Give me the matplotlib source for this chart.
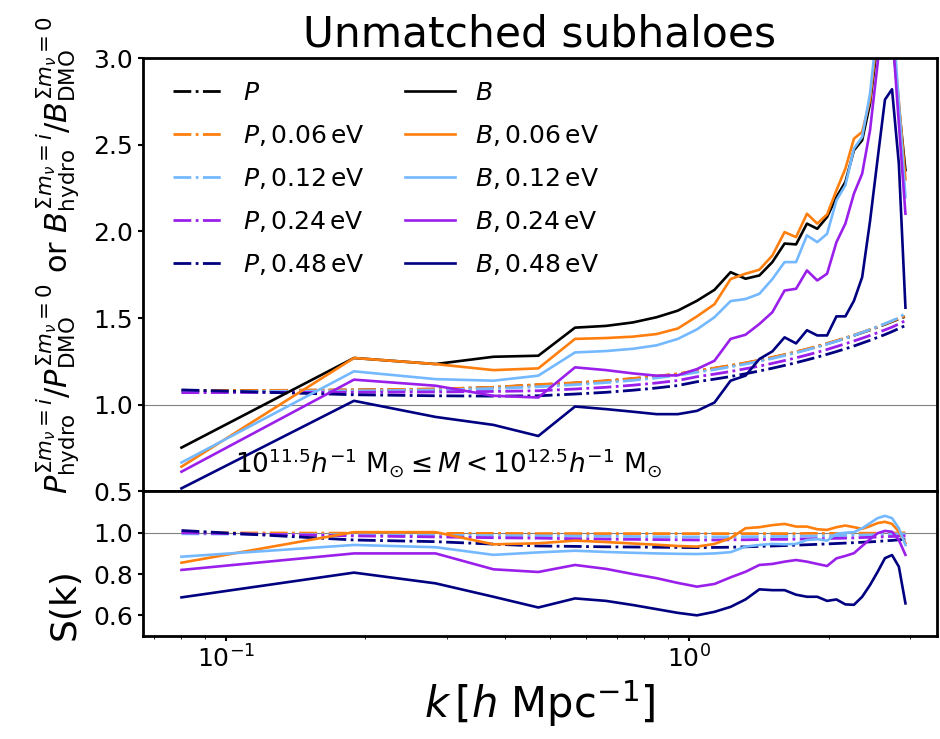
import matplotlib.pyplot as plt
import numpy as np

# wavenumbers (h/Mpc)
k = [0.0802, 0.189, 0.2835, 0.378, 0.4725, 0.567, 0.6615, 0.756, 0.8505, 0.945,
     1.0395, 1.134, 1.2285, 1.323, 1.4175, 1.512, 1.6065, 1.701, 1.7955, 1.89,
     1.9845, 2.079, 2.1735, 2.268, 2.3625, 2.457, 2.5515, 2.646, 2.7405, 2.835, 2.9295]

labels = ['', ', 0.06', ', 0.12', ', 0.24', ', 0.48']
colors = ['black', '#ff7f0e', '#74b9ff', '#9b1fea', '#000080']

# power spectrum ratios (dash-dot)
P_0 = [1.080, 1.085, 1.090, 1.100, 1.115, 1.125, 1.137, 1.150, 1.163, 1.177, 1.195, 1.210, 1.225, 1.240, 1.256,
       1.272, 1.288, 1.304, 1.320, 1.336, 1.352, 1.368, 1.384, 1.400, 1.416, 1.432, 1.448, 1.464, 1.480, 1.495, 1.510]
P_006 = [1.080, 1.086, 1.091, 1.101, 1.117, 1.127, 1.139, 1.152, 1.165, 1.179, 1.197, 1.212, 1.227, 1.242, 1.258,
         1.274, 1.290, 1.306, 1.322, 1.338, 1.354, 1.370, 1.386, 1.402, 1.418, 1.434, 1.450, 1.466, 1.482, 1.498, 1.514]
P_012 = [1.075, 1.080, 1.085, 1.094, 1.104, 1.116, 1.128, 1.141, 1.155, 1.170, 1.188, 1.203, 1.219, 1.235, 1.251,
         1.267, 1.284, 1.300, 1.317, 1.333, 1.350, 1.366, 1.383, 1.400, 1.417, 1.434, 1.451, 1.468, 1.485, 1.502, 1.528]
P_024 = [1.070, 1.072, 1.074, 1.077, 1.081, 1.091, 1.101, 1.113, 1.126, 1.140, 1.162, 1.177, 1.192, 1.208, 1.223,
         1.239, 1.255, 1.271, 1.287, 1.303, 1.319, 1.336, 1.352, 1.368, 1.384, 1.400, 1.416, 1.432, 1.448, 1.466, 1.486]
P_048 = [1.086, 1.058, 1.052, 1.050, 1.052, 1.062, 1.072, 1.084, 1.097, 1.111, 1.133, 1.148, 1.163, 1.179, 1.195,
         1.211, 1.227, 1.243, 1.259, 1.275, 1.291, 1.307, 1.323, 1.339, 1.356, 1.372, 1.389, 1.405, 1.422, 1.440, 1.457]

# bispectrum ratios (solid)
B_0 = [0.753, 1.270, 1.235, 1.277, 1.283, 1.445, 1.455, 1.475, 1.505, 1.543, 1.600, 1.663, 1.765, 1.727, 1.746,
       1.823, 1.930, 1.925, 2.045, 2.015, 2.083, 2.198, 2.285, 2.468, 2.526, 2.738, 3.100, 3.400, 3.150, 2.720, 2.353]
B_006 = [0.643, 1.270, 1.235, 1.200, 1.210, 1.380, 1.385, 1.393, 1.408, 1.440, 1.510, 1.580, 1.725, 1.756, 1.779,
         1.861, 1.996, 1.967, 2.102, 2.045, 2.098, 2.237, 2.362, 2.535, 2.574, 2.760, 3.150, 3.450, 3.200, 2.750, 2.300]
B_012 = [0.667, 1.193, 1.148, 1.139, 1.168, 1.302, 1.310, 1.323, 1.343, 1.380, 1.435, 1.505, 1.598, 1.610, 1.640,
         1.725, 1.823, 1.823, 1.977, 1.938, 1.986, 2.179, 2.266, 2.478, 2.545, 2.796, 3.200, 3.500, 3.300, 2.740, 2.198]
B_024 = [0.614, 1.145, 1.110, 1.052, 1.042, 1.216, 1.200, 1.181, 1.168, 1.170, 1.206, 1.254, 1.380, 1.404, 1.466,
         1.534, 1.659, 1.669, 1.775, 1.717, 1.756, 1.938, 2.045, 2.218, 2.333, 2.584, 2.970, 3.400, 3.180, 2.620, 2.102]
B_048 = [0.518, 1.023, 0.930, 0.884, 0.820, 0.990, 0.975, 0.960, 0.946, 0.946, 0.965, 1.013, 1.139, 1.168, 1.264,
         1.308, 1.389, 1.354, 1.430, 1.400, 1.400, 1.510, 1.510, 1.600, 1.736, 2.060, 2.420, 2.760, 2.820, 2.390, 1.560]

# S(k) in lower panel
SP_006 = [1.000, 0.998, 0.997, 0.997, 0.996, 0.996, 0.996, 0.996, 0.996, 0.996, 0.996, 0.996, 0.996, 0.996, 0.996,
          0.996, 0.996, 0.996, 0.997, 0.997, 0.997, 0.997, 0.997, 0.998, 0.998, 0.998, 0.998, 0.999, 0.999, 0.999, 1.000]
SP_012 = [0.995, 0.990, 0.988, 0.986, 0.985, 0.984, 0.983, 0.982, 0.981, 0.980, 0.980, 0.980, 0.980, 0.981, 0.981,
          0.982, 0.982, 0.983, 0.984, 0.984, 0.985, 0.986, 0.987, 0.988, 0.989, 0.990, 0.991, 0.992, 0.993, 0.994, 0.995]
SP_024 = [1.000, 0.985, 0.980, 0.976, 0.974, 0.971, 0.969, 0.968, 0.967, 0.966, 0.965, 0.965, 0.966, 0.966, 0.967,
          0.968, 0.968, 0.969, 0.970, 0.971, 0.972, 0.973, 0.974, 0.975, 0.977, 0.978, 0.979, 0.981, 0.982, 0.984, 0.985]
SP_048 = [1.011, 0.965, 0.957, 0.945, 0.936, 0.934, 0.932, 0.931, 0.930, 0.929, 0.928, 0.929, 0.930, 0.932, 0.934,
          0.936, 0.938, 0.940, 0.942, 0.944, 0.946, 0.948, 0.950, 0.952, 0.954, 0.956, 0.958, 0.961, 0.963, 0.966, 0.969]

SB_006 = [0.855, 1.003, 1.003, 0.944, 0.949, 0.962, 0.955, 0.948, 0.942, 0.936, 0.933, 0.946, 0.974, 1.022, 1.027,
          1.037, 1.043, 1.030, 1.030, 1.017, 1.014, 1.027, 1.035, 1.027, 1.019, 1.032, 1.047, 1.053, 1.043, 1.006, 0.950]
SB_012 = [0.884, 0.941, 0.930, 0.893, 0.905, 0.913, 0.907, 0.903, 0.900, 0.898, 0.897, 0.900, 0.906, 0.933, 0.941,
          0.946, 0.944, 0.946, 0.965, 0.969, 0.962, 0.995, 1.000, 1.003, 1.022, 1.047, 1.071, 1.082, 1.071, 1.022, 0.941]
SB_024 = [0.820, 0.900, 0.900, 0.823, 0.810, 0.844, 0.825, 0.800, 0.780, 0.757, 0.739, 0.752, 0.784, 0.811, 0.844,
          0.849, 0.860, 0.868, 0.860, 0.849, 0.839, 0.876, 0.888, 0.901, 0.936, 0.969, 0.998, 1.009, 1.005, 0.965, 0.893]
SB_048 = [0.687, 0.807, 0.755, 0.690, 0.638, 0.682, 0.670, 0.650, 0.630, 0.612, 0.600, 0.617, 0.641, 0.677, 0.726,
          0.722, 0.722, 0.700, 0.690, 0.690, 0.670, 0.677, 0.653, 0.651, 0.690, 0.747, 0.811, 0.877, 0.892, 0.836, 0.658]

P_all = [P_0, P_006, P_012, P_024, P_048]
B_all = [B_0, B_006, B_012, B_024, B_048]
SP_all = [SP_006, SP_012, SP_024, SP_048]
SB_all = [SB_006, SB_012, SB_024, SB_048]

fig = plt.figure(figsize=(9.4, 7.39), dpi=100)
gs = fig.add_gridspec(2, 1, height_ratios=[3, 1], hspace=0,
                      left=0.152, right=0.997, top=0.9215, bottom=0.1394)
ax = fig.add_subplot(gs[0])
ax2 = fig.add_subplot(gs[1], sharex=ax)

for i in range(5):
    lab = labels[i] + r'\,\mathrm{eV}' if i > 0 else ''
    ax.plot(k, P_all[i], '-.', color=colors[i], lw=2, label=r'$P' + lab + '$')
for i in range(5):
    lab = labels[i] + r'\,\mathrm{eV}' if i > 0 else ''
    ax.plot(k, B_all[i], '-', color=colors[i], lw=1.9, label=r'$B' + lab + '$')

ax.axhline(1.0, color='gray', lw=0.8, zorder=0)
ax.set_xscale('log')
ax.set_xlim(0.0662, 3.43)
ax.set_ylim(0.5, 3.0)
ax.set_yticks([0.5, 1.0, 1.5, 2.0, 2.5, 3.0])
ax.tick_params(labelsize=18, labelbottom=False)
ax.set_title('Unmatched subhaloes', fontsize=30.5, pad=8)
ax.set_ylabel(r'$P^{\Sigma m_\nu=i}_{\rm hydro}/P^{\Sigma m_\nu=0}_{\rm DMO}$ or '
              r'$B^{\Sigma m_\nu=i}_{\rm hydro}/B^{\Sigma m_\nu=0}_{\rm DMO}$', fontsize=22)
ax.yaxis.set_label_coords(-0.077, 0.545)
ax.legend(ncol=2, frameon=False, fontsize=18, loc='upper left',
          labelspacing=0.72, columnspacing=1.6, bbox_to_anchor=(0.01, 1.0))
ax.text(0.385, 0.065, r'$10^{11.5}h^{-1}\ \mathrm{M}_{\odot} \leq M < 10^{12.5}h^{-1}\ \mathrm{M}_{\odot}$',
        transform=ax.transAxes, ha='center', va='center', fontsize=19)

for i in range(4):
    ax2.plot(k, SP_all[i], '-.', color=colors[i + 1], lw=2)
for i in range(4):
    ax2.plot(k, SB_all[i], '-', color=colors[i + 1], lw=1.9)
ax2.axhline(1.0, color='gray', lw=0.8, zorder=0)
ax2.set_ylim(0.5, 1.2)
ax2.set_yticks([0.6, 0.8, 1.0])
ax2.tick_params(labelsize=18)
ax2.set_ylabel('S(k)', fontsize=26)
ax2.yaxis.set_label_coords(-0.077, 0.22)
ax2.set_xlabel(r'$k\,[h\ \mathrm{Mpc}^{-1}]$', fontsize=30)

for a in (ax, ax2):
    for s in a.spines.values():
        s.set_linewidth(2)
    a.tick_params(width=1.5)

fig.savefig('out.png', dpi=100)
